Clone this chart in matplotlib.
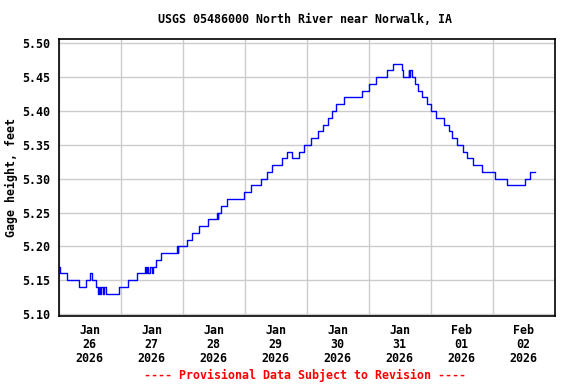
import matplotlib
matplotlib.use("Agg")
import matplotlib.pyplot as plt
import matplotlib.dates as mdates
import pandas as pd

title = "USGS 05486000 North River near Norwalk, IA"
ylabel = "Gage height, feet"
footer = "---- Provisional Data Subject to Revision ----"

times = [
    "2026-01-26 00:00", "2026-01-26 00:30", "2026-01-26 03:15", "2026-01-26 03:30",
    "2026-01-26 08:00", "2026-01-26 10:30", "2026-01-26 12:00", "2026-01-26 12:45",
    "2026-01-26 14:15", "2026-01-26 15:15", "2026-01-26 15:30", "2026-01-26 16:00",
    "2026-01-26 16:30", "2026-01-26 17:15", "2026-01-26 17:30", "2026-01-26 18:15",
    "2026-01-26 23:30", "2026-01-27 02:45", "2026-01-27 06:15", "2026-01-27 09:30",
    "2026-01-27 09:45", "2026-01-27 10:15", "2026-01-27 10:30", "2026-01-27 11:15",
    "2026-01-27 12:00", "2026-01-27 12:30", "2026-01-27 13:30", "2026-01-27 15:30",
    "2026-01-27 21:45", "2026-01-27 22:00", "2026-01-27 22:15", "2026-01-28 01:45",
    "2026-01-28 03:45", "2026-01-28 06:30", "2026-01-28 09:45", "2026-01-28 13:15",
    "2026-01-28 13:30", "2026-01-28 13:45", "2026-01-28 15:00", "2026-01-28 17:00",
    "2026-01-28 23:45", "2026-01-29 02:30", "2026-01-29 06:15", "2026-01-29 08:45",
    "2026-01-29 10:45", "2026-01-29 14:30", "2026-01-29 16:15", "2026-01-29 18:30",
    "2026-01-29 21:00", "2026-01-29 23:00", "2026-01-30 01:45", "2026-01-30 04:30",
    "2026-01-30 06:30", "2026-01-30 08:15", "2026-01-30 09:45", "2026-01-30 11:30",
    "2026-01-30 14:15", "2026-01-30 21:30", "2026-01-31 00:15", "2026-01-31 03:00",
    "2026-01-31 07:15", "2026-01-31 09:30", "2026-01-31 12:45", "2026-01-31 13:15",
    "2026-01-31 15:30", "2026-01-31 15:45", "2026-01-31 16:00", "2026-01-31 16:45",
    "2026-01-31 18:00", "2026-01-31 19:15", "2026-01-31 20:45", "2026-01-31 22:30",
    "2026-02-01 00:00", "2026-02-01 02:00", "2026-02-01 05:15", "2026-02-01 07:00",
    "2026-02-01 08:15", "2026-02-01 10:15", "2026-02-01 12:30", "2026-02-01 14:00",
    "2026-02-01 16:30", "2026-02-01 19:45", "2026-02-02 00:45", "2026-02-02 05:30",
    "2026-02-02 12:30", "2026-02-02 14:30", "2026-02-02 16:15",
]
gage = [
    5.17, 5.16, 5.15, 5.15,
    5.14, 5.15, 5.16, 5.15,
    5.14, 5.13, 5.14, 5.13,
    5.14, 5.13, 5.14, 5.13,
    5.14, 5.15, 5.16, 5.17,
    5.16, 5.17, 5.16, 5.17,
    5.16, 5.17, 5.18, 5.19,
    5.20, 5.19, 5.20, 5.21,
    5.22, 5.23, 5.24, 5.25,
    5.24, 5.25, 5.26, 5.27,
    5.28, 5.29, 5.30, 5.31,
    5.32, 5.33, 5.34, 5.33,
    5.34, 5.35, 5.36, 5.37,
    5.38, 5.39, 5.40, 5.41,
    5.42, 5.43, 5.44, 5.45,
    5.46, 5.47, 5.46, 5.45,
    5.46, 5.45, 5.46, 5.45,
    5.44, 5.43, 5.42, 5.41,
    5.40, 5.39, 5.38, 5.37,
    5.36, 5.35, 5.34, 5.33,
    5.32, 5.31, 5.30, 5.29,
    5.30, 5.31, 5.31,
]
y_ticks = [5.10, 5.15, 5.20, 5.25, 5.30, 5.35, 5.40, 5.45, 5.50]
x_start = "2026-01-26 00:00"
x_end = "2026-02-03 00:00"

t = pd.to_datetime(times)

font = "DejaVu Sans Mono"
fs = 8.4

fig = plt.figure(figsize=(5.76, 3.84), dpi=100)
ax = fig.add_axes([0.1019, 0.177, 0.8611, 0.7214])

ax.plot(t, gage, drawstyle="steps-post", color="#0000FF", lw=1.0)

ax.set_xlim(pd.Timestamp(x_start), pd.Timestamp(x_end))
ax.set_ylim(5.097, 5.5064)
ax.set_yticks(y_ticks)
ax.set_yticklabels([f"{v:.2f}" for v in y_ticks])

ax.xaxis.set_major_locator(mdates.HourLocator(byhour=[12]))
ax.xaxis.set_major_formatter(mdates.DateFormatter("%b\n%d\n%Y"))
ax.xaxis.set_minor_locator(mdates.DayLocator())

ax.grid(False)
ax.grid(True, which="minor", axis="x", color="#cccccc", lw=1.0)
ax.grid(True, which="major", axis="y", color="#cccccc", lw=1.0)
ax.set_axisbelow(True)

ax.tick_params(axis="both", which="both", length=0)
ax.tick_params(axis="y", pad=6)
ax.tick_params(axis="x", pad=6)
for lab in ax.get_xticklabels():
    lab.set_fontfamily(font)
    lab.set_fontweight("bold")
    lab.set_fontsize(fs)
    lab.set_linespacing(1.1)
for lab in ax.get_yticklabels():
    lab.set_fontfamily(font)
    lab.set_fontweight("bold")
    lab.set_fontsize(fs)

for s in ax.spines.values():
    s.set_color("black")
    s.set_linewidth(1.2)

ax.set_ylabel(ylabel, fontfamily=font, fontweight="bold", fontsize=fs, labelpad=3)
fig.text(0.5295, 0.948, title, ha="center", va="center",
         fontfamily=font, fontweight="bold", fontsize=fs)
fig.text(0.5295, 0.023, footer, ha="center", va="center",
         fontfamily=font, fontweight="bold", fontsize=fs, color="red")

fig.savefig("out.png", dpi=100)
